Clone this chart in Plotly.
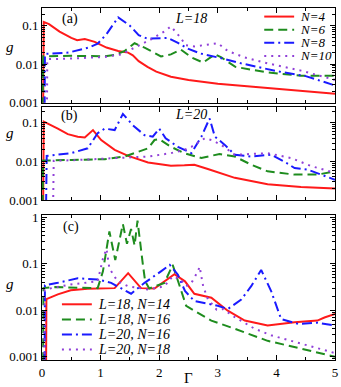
import plotly.graph_objects as go

# panel (a): L=18
red_a_x = [0.02, 0.03, 0.12, 0.3, 0.5, 0.6, 0.73, 0.9, 1.1, 1.3, 1.47, 1.55, 1.65, 1.8, 1.95, 2.2, 2.5, 3.0, 3.6, 4.15, 5.0]
red_a_y = [0.0008, 0.125, 0.11, 0.07, 0.048, 0.042, 0.045, 0.038, 0.027, 0.022, 0.020, 0.017, 0.012, 0.0085, 0.0064, 0.0047, 0.0039, 0.0031, 0.0026, 0.0022, 0.0017]
green_a_x = [0.01, 0.02, 0.5, 1.07, 1.24, 1.41, 1.58, 1.75, 2.03, 2.2, 2.37, 2.55, 2.75, 2.95, 3.06, 3.3, 3.85, 4.42, 5.0]
green_a_y = [0.0008, 0.016, 0.0165, 0.016, 0.0173, 0.022, 0.035, 0.027, 0.0159, 0.018, 0.024, 0.015, 0.011, 0.018, 0.015, 0.0085, 0.0061, 0.005, 0.005]
blue_a_x = [0.045, 0.05, 0.45, 0.8, 0.95, 1.1, 1.3, 1.5, 1.65, 1.8, 2.15, 2.32, 2.5, 2.7, 3.0, 3.4, 4.0, 4.5, 5.0]
blue_a_y = [0.0008, 0.0185, 0.020, 0.027, 0.034, 0.06, 0.165, 0.10, 0.057, 0.046, 0.048, 0.036, 0.025, 0.019, 0.015, 0.0105, 0.0066, 0.0049, 0.0028]
purple_a_x = [0.085, 0.09, 0.5, 1.07, 1.35, 1.58, 1.86, 2.09, 2.2, 2.37, 2.45, 2.6, 3.0, 3.17, 3.46, 3.85, 4.42, 5.0]
purple_a_y = [0.0008, 0.0135, 0.014, 0.0154, 0.018, 0.027, 0.044, 0.071, 0.096, 0.048, 0.031, 0.029, 0.035, 0.022, 0.015, 0.0105, 0.0068, 0.0039]

# panel (b): L=20
red_b_x = [0.02, 0.03, 0.27, 0.44, 0.61, 0.73, 0.87, 1.01, 1.24, 1.47, 1.81, 2.2, 2.43, 2.6, 2.83, 3.29, 3.85, 4.42, 5.0]
red_b_y = [0.0008, 0.107, 0.071, 0.051, 0.044, 0.042, 0.065, 0.036, 0.020, 0.014, 0.0095, 0.0078, 0.008, 0.0083, 0.0064, 0.0038, 0.0026, 0.0022, 0.002]
green_b_x = [0.01, 0.02, 0.5, 1.07, 1.41, 1.64, 1.81, 1.92, 2.0, 2.2, 2.43, 2.72, 3.03, 3.29, 3.57, 3.85, 4.31, 4.7, 5.0]
green_b_y = [0.0008, 0.0106, 0.011, 0.0115, 0.0135, 0.018, 0.022, 0.036, 0.038, 0.024, 0.0165, 0.0123, 0.0157, 0.0135, 0.0083, 0.0056, 0.0046, 0.0046, 0.0056]
blue_b_x = [0.07, 0.08, 0.5, 0.78, 0.95, 1.07, 1.24, 1.38, 1.55, 1.75, 1.89, 2.0, 2.11, 2.32, 2.55, 2.72, 2.86, 2.95, 3.12, 3.29, 3.57, 3.91, 4.14, 4.31, 4.53, 5.0]
blue_b_y = [0.0008, 0.014, 0.0165, 0.022, 0.054, 0.071, 0.065, 0.17, 0.087, 0.048, 0.044, 0.071, 0.04, 0.024, 0.0165, 0.044, 0.13, 0.044, 0.027, 0.015, 0.0135, 0.015, 0.0099, 0.0068, 0.0062, 0.0034]
purple_b_x = [0.19, 0.2, 0.5, 1.35, 1.81, 2.2, 2.43, 2.55, 2.78, 2.89, 3.06, 3.29, 3.85, 4.25, 4.6, 5.0]
purple_b_y = [0.0008, 0.0105, 0.0108, 0.0123, 0.0135, 0.0165, 0.020, 0.024, 0.040, 0.036, 0.027, 0.015, 0.0165, 0.0123, 0.0076, 0.0051]

# panel (c)
red_c_x = [0.07, 0.075, 0.27, 0.49, 0.78, 1.24, 1.47, 1.69, 1.92, 2.09, 2.26, 2.44, 2.6, 2.89, 3.0, 3.17, 3.46, 3.85, 4.31, 4.7, 4.82, 5.0]
red_c_y = [0.0008, 0.0174, 0.022, 0.027, 0.029, 0.030, 0.063, 0.030, 0.0295, 0.042, 0.060, 0.042, 0.0227, 0.0187, 0.0147, 0.0098, 0.006, 0.0047, 0.0055, 0.006, 0.007, 0.0083]
green_c_x = [0.02, 0.025, 0.22, 0.78, 0.95, 1.04, 1.15, 1.25, 1.38, 1.45, 1.52, 1.58, 1.63, 1.72, 1.76, 1.83, 2.09, 2.23, 2.35, 2.46, 2.6, 2.89, 3.29, 3.85, 4.42, 5.0]
green_c_y = [0.0008, 0.03, 0.0316, 0.030, 0.030, 0.069, 0.5, 0.12, 0.72, 0.27, 0.56, 0.25, 0.85, 0.10, 0.042, 0.0295, 0.039, 0.095, 0.033, 0.0125, 0.0098, 0.006, 0.004, 0.0022, 0.0015, 0.001]
blue_c_x = [0.045, 0.05, 0.27, 0.61, 0.95, 1.18, 1.52, 1.75, 2.03, 2.18, 2.32, 2.44, 2.6, 3.0, 3.17, 3.4, 3.57, 3.74, 3.91, 4.08, 4.37, 4.7, 5.0]
blue_c_y = [0.0008, 0.0345, 0.039, 0.049, 0.046, 0.039, 0.0227, 0.039, 0.069, 0.095, 0.058, 0.026, 0.0158, 0.0125, 0.0106, 0.017, 0.033, 0.074, 0.026, 0.0065, 0.0051, 0.0054, 0.0047]
purple_c_x = [0.04, 0.045, 0.49, 0.95, 1.04, 1.1, 1.15, 1.29, 1.47, 1.81, 2.09, 2.23, 2.37, 2.46, 2.55, 2.66, 2.69, 2.75, 2.83, 2.98, 3.09, 3.29, 3.63, 3.91, 4.31, 4.71, 5.0]
purple_c_y = [0.0008, 0.028, 0.036, 0.042, 0.13, 0.21, 0.08, 0.042, 0.033, 0.028, 0.033, 0.054, 0.046, 0.033, 0.039, 0.069, 0.087, 0.033, 0.0174, 0.0103, 0.0106, 0.0071, 0.004, 0.0029, 0.0021, 0.0015, 0.0012]

labels_a = ["N=4", "N=6", "N=8", "N=10"]
labels_c = ["L=18, N=14", "L=18, N=16", "L=20, N=16", "L=20, N=18"]

RED = "#ff1a1a"
GREEN = "#1e8c1e"
BLUE = "#1a1aff"
PURPLE = "#9040d8"
styles = [
    dict(color=RED, width=2, dash="solid"),
    dict(color=GREEN, width=2, dash="9px,5px"),
    dict(color=BLUE, width=2, dash="10px,4px,2px,4px"),
    dict(color=PURPLE, width=2, dash="2px,5px"),
]
FONT = "Liberation Serif"

W, H = 341, 387
L, R, T, B = 42, 5, 3, 27


def px(x):
    return (x - L) / (W - L - R)


def py(y):
    return (H - B - y) / (H - T - B)


fig = go.Figure()

panels = [
    ("x", "y", [(red_a_x, red_a_y), (green_a_x, green_a_y), (blue_a_x, blue_a_y), (purple_a_x, purple_a_y)]),
    ("x2", "y2", [(red_b_x, red_b_y), (green_b_x, green_b_y), (blue_b_x, blue_b_y), (purple_b_x, purple_b_y)]),
    ("x3", "y3", [(red_c_x, red_c_y), (green_c_x, green_c_y), (blue_c_x, blue_c_y), (purple_c_x, purple_c_y)]),
]
for xa, ya, series in panels:
    for (xs, ys), st in zip(series, styles):
        fig.add_trace(go.Scatter(x=xs, y=ys, mode="lines", line=st, xaxis=xa, yaxis=ya,
                                 showlegend=False, hoverinfo="skip"))

xcommon = dict(range=[0, 5], dtick=1, ticks="inside", ticklen=5, tickwidth=1, tickcolor="black",
               showline=True, linecolor="black", linewidth=1, mirror="allticks",
               showgrid=False, zeroline=False,
               minor=dict(ticks="inside", ticklen=3, dtick=0.5, tickcolor="black", showgrid=False),
               tickfont=dict(family=FONT, size=13, color="black"))
ycommon = dict(type="log", ticks="inside", ticklen=5, tickwidth=1, tickcolor="black",
               showline=True, linecolor="black", linewidth=1, mirror="allticks",
               showgrid=False, zeroline=False,
               minor=dict(ticks="inside", ticklen=3, dtick="D1", tickcolor="black", showgrid=False),
               tickfont=dict(family=FONT, size=13, color="black"))

fig.update_layout(
    width=W, height=H,
    margin=dict(l=L, r=R, t=T, b=B),
    font=dict(family=FONT, color="black"),
    paper_bgcolor="white", plot_bgcolor="white",
    xaxis=dict(xcommon, anchor="y", showticklabels=False),
    yaxis=dict(ycommon, domain=[py(99), 1.0], range=[-3, -0.54],
               tickvals=[0.001, 0.01, 0.1], ticktext=["0.001", "0.01", "0.1"], anchor="x"),
    xaxis2=dict(xcommon, anchor="y2", showticklabels=False, matches="x"),
    yaxis2=dict(ycommon, domain=[py(198), py(103)], range=[-3, -0.58],
                tickvals=[0.001, 0.01, 0.1], ticktext=["0.001", "0.01", "0.1"], anchor="x2"),
    xaxis3=dict(xcommon, anchor="y3", tickvals=[0, 1, 2, 3, 4, 5]),
    yaxis3=dict(ycommon, domain=[0, py(213)], range=[-3.07, 0.05],
                tickvals=[0.001, 0.01, 0.1, 1], ticktext=["0.001", "0.01", "0.1", "1"], anchor="x3"),
)

ann = []


def text(x, y, s, size=14, italic=False, xanchor="center"):
    ann.append(dict(x=px(x), y=py(y), xref="paper", yref="paper", text=s, showarrow=False,
                    xanchor=xanchor, yanchor="middle",
                    font=dict(family=FONT, size=size, color="black", style="italic" if italic else "normal")))


text(70, 14, "(a)")
text(192, 14, "L=18", italic=True)
text(70, 113, "(b)")
text(192, 111, "L=20", italic=True)
text(71, 225, "(c)")
text(10, 43, "g", size=15, italic=True)
text(10, 130, "g", size=15, italic=True)
text(10, 283, "g", size=15, italic=True)
text(189, 378, "Γ", size=15)

shapes = []
for i, (lab, st) in enumerate(zip(labels_a, styles)):
    yy = 11.7 + 13.3 * i
    shapes.append(dict(type="line", xref="paper", yref="paper", x0=px(265), x1=px(295), y0=py(yy), y1=py(yy), line=st))
    text(299, yy, lab, size=13, italic=True, xanchor="left")
for i, (lab, st) in enumerate(zip(labels_c, styles)):
    yy = 303.5 + 15.3 * i
    shapes.append(dict(type="line", xref="paper", yref="paper", x0=px(62), x1=px(92), y0=py(yy), y1=py(yy), line=st))
    text(96, yy, lab, size=14, italic=True, xanchor="left")

fig.update_layout(annotations=ann, shapes=shapes)
fig.write_html("out.html", config={"displayModeBar": False},
               post_script="document.body.style.margin='0';")
